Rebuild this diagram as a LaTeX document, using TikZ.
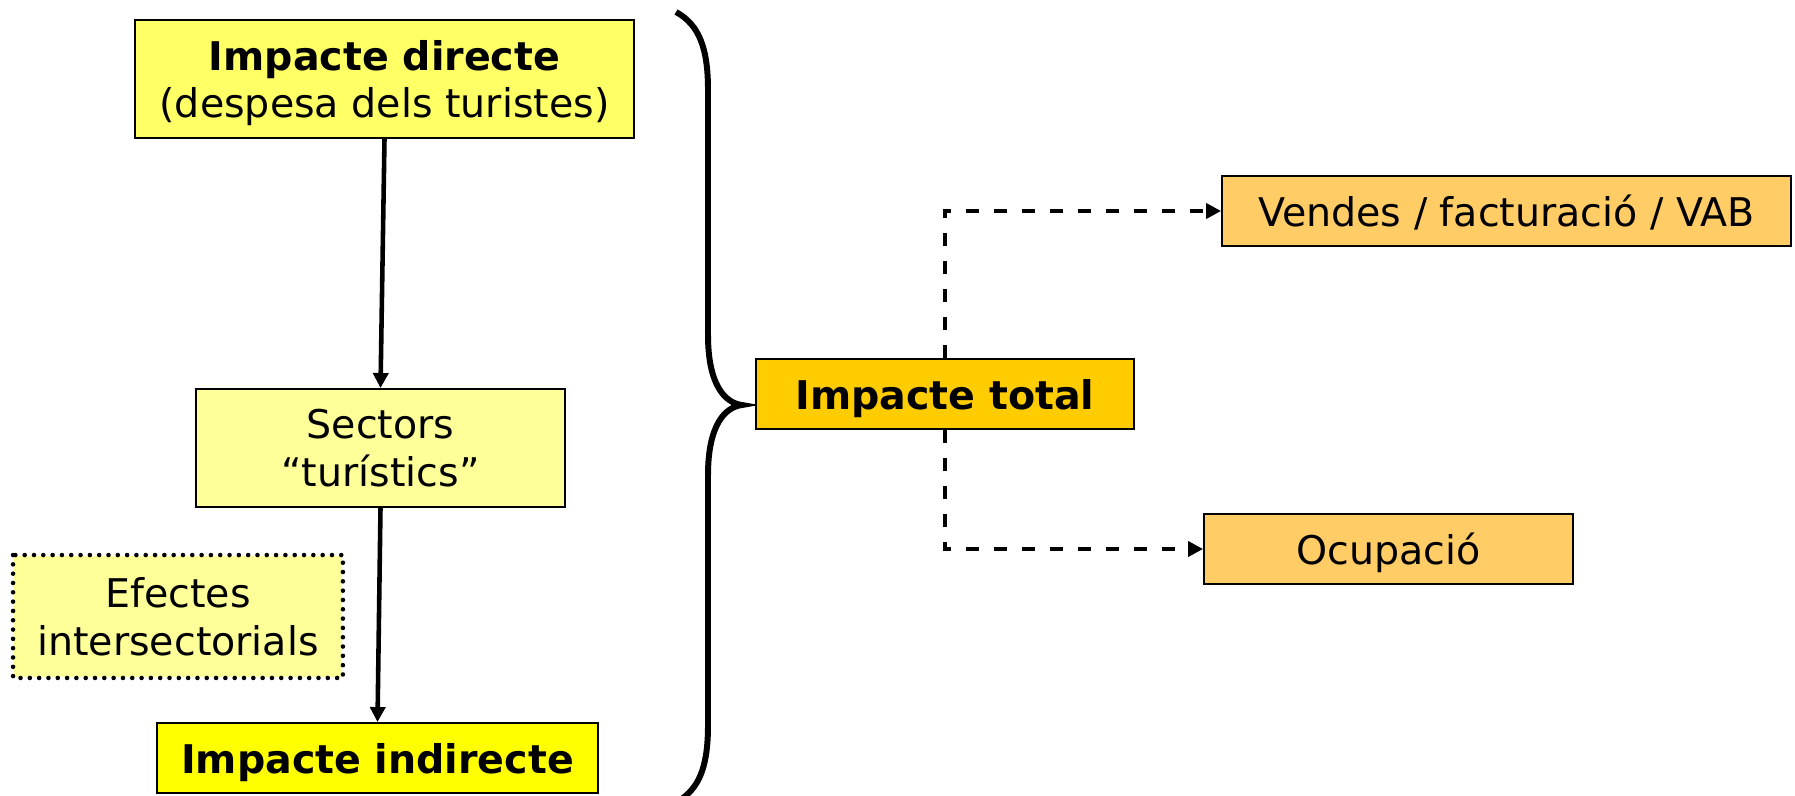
\documentclass[tikz,border=0pt]{standalone}
\usepackage{fontspec}
\setmainfont{DejaVu Sans}
\usetikzlibrary{arrows.meta}
\usetikzlibrary{positioning}

\definecolor{paleyellow}{HTML}{FFFF99}
\definecolor{lightyellow}{HTML}{FFFF66}
\definecolor{brightyellow}{HTML}{FFFF00}
\definecolor{gold}{HTML}{FFCC00}
\definecolor{lightorange}{HTML}{FFCC66}

\begin{document}
\begin{tikzpicture}[x=0.02cm, y=-0.02cm]
	\tikzset{
		boxnode/.style={rectangle, draw=black, line width=1.1pt, inner sep=0pt, text depth=0pt, align=center, font=\fontsize{22.5}{27}\selectfont},
		flownode/.style={boxnode, minimum width=7.38cm, minimum height=2.36cm, fill=paleyellow},
		resultnode/.style={boxnode, minimum height=1.4cm, fill=lightorange},
		flowarrow/.style={-{Triangle[length=0.3cm, width=0.3cm]}, line width=2.6pt},
		resultarrow/.style={-{Triangle[length=0.3cm, width=0.3cm]}, line width=2.6pt, dash pattern=on 0.27cm off 0.29cm},
	}
	\useasboundingbox (0,0) rectangle (1795,795);

	\node[flownode, minimum width=9.98cm, fill=lightyellow] (direct) at (384.5,79) {\textbf{Impacte directe}\\(despesa dels turistes)};
	\node[flownode] (sectors) at (380.5,448) {Sectors\\“turístics”};
	\node[flownode, minimum width=6.56cm, minimum height=2.42cm, draw=none] (effects) at (178,616.5) {Efectes\\intersectorials};
	\draw[line width=2.6pt, line cap=round, dash pattern=on 0pt off 5.3pt] (effects.north west) rectangle (effects.south east);
	\node[boxnode, minimum width=8.82cm, minimum height=1.4cm, fill=brightyellow] (indirect) at (377.5,758) {\textbf{Impacte indirecte}};

	\draw[flowarrow] (direct.south) -- (sectors.north);
	\draw[flowarrow] (sectors.south) -- (indirect.north);

	% brace
	\draw[line width=3.4pt] (676,12) .. controls (700,25) and (708,50) .. (708,90) -- (708,335)
		.. controls (708,385) and (725,403) .. (742,405)
		.. controls (725,407) and (708,425) .. (708,475) -- (708,725)
		.. controls (708,765) and (700,785) .. (683,798);

	\node[boxnode, minimum width=7.56cm, minimum height=1.4cm, fill=gold] (total) at (945,394) {\textbf{Impacte total}};

	\node[resultnode, minimum width=11.38cm] (sales) at (1506.5,211) {Vendes / facturació / VAB};
	\node[resultnode, minimum width=7.38cm] (jobs) at (1388.5,549) {Ocupació};

	\draw[resultarrow] (total.north) |- (sales.west);
	\draw[resultarrow] (total.south) |- (jobs.west);
\end{tikzpicture}
\end{document}
